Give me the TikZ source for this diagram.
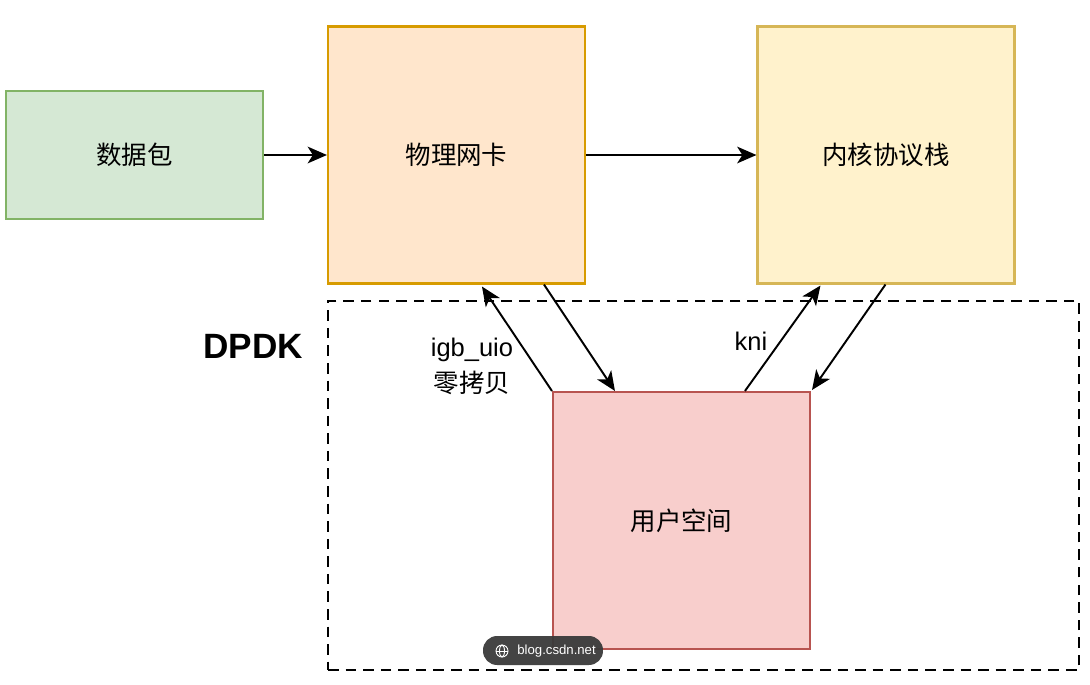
\documentclass[tikz,border=0pt]{standalone}
\usepackage{fontspec}
\setmainfont{Liberation Sans}
\newfontfamily\cjk{Noto Sans CJK SC}
\usetikzlibrary{arrows.meta,calc}
\definecolor{gfill}{HTML}{D5E8D4}\definecolor{gline}{HTML}{82B366}
\definecolor{ofill}{HTML}{FFE6CC}\definecolor{oline}{HTML}{D79B00}
\definecolor{yfill}{HTML}{FFF2CC}\definecolor{yline}{HTML}{D6B656}
\definecolor{rfill}{HTML}{F8CECC}\definecolor{rline}{HTML}{B85450}
\definecolor{badge}{HTML}{3A3A3A}
\tikzset{
  box/.style={draw, line width=1.2pt, minimum width=5.14cm, minimum height=5.14cm, inner sep=0pt, font=\cjk\fontsize{14.5}{17}\selectfont},
  conn/.style={line width=1.1pt, -{Stealth[length=11pt,width=9.5pt,inset=3pt]}},
  lbl/.style={font=\fontsize{14.5}{20.5}\selectfont, align=center, inner sep=0pt}
}
\begin{document}
\begin{tikzpicture}[x=0.02cm,y=-0.02cm]
\useasboundingbox[fill=white] (0,0) rectangle (1090,684);
\node[box, fill=gfill, draw=gline, minimum height=2.56cm] (pkt) at (134.5,155) {数据包};
\node[box, fill=ofill, draw=oline] (phy) at (456.5,155) {物理网卡};
\node[box, fill=yfill, draw=yline] (kern) at (886,155) {内核协议栈};
\node[draw, line width=1.1pt, dash pattern=on 6pt off 4pt, minimum width=15.02cm, minimum height=7.38cm, inner sep=0pt] (dpdk) at (703.5,485.5) {};
\node[box, fill=rfill, draw=rline] (user) at (681.5,520.5) {用户空间};
\node[font=\bfseries\fontsize{20}{24}\selectfont, inner sep=0pt] (dpdklbl) at (253,346) {DPDK};
\node[lbl] (igb) at (472,366) {igb\_uio\\{\cjk 零拷贝}};
\node[lbl] (kni) at (751,341) {kni};
\draw[conn] (pkt.east) -- (phy.west);
\draw[conn] (phy.east) -- (kern.west);
\draw[conn] (user.north west) -- ($(phy.south west)+(155,2)$);
\draw[conn] ($(phy.south west)+(217,0)$) -- ($(user.north west)+(63,0)$);
\draw[conn] ($(user.north west)+(193,0)$) -- ($(kern.south west)+(64,1)$);
\draw[conn] ($(kern.south west)+(129,0)$) -- ($(user.north east)+(1,-1)$);
% watermark badge
\node[fill=badge, fill opacity=0.95, rounded corners=8pt, minimum width=2.4cm, minimum height=0.58cm, inner sep=0pt] (wm) at (543,650.5) {};
\node[text=white, font=\fontsize{7.5}{9}\selectfont, inner sep=0pt, anchor=west] (wmtext) at (517,651) {blog.csdn.net};
\draw[white, line width=0.5pt] (502,651) circle (6);
\draw[white, line width=0.5pt] (502,651) ellipse (2.5 and 6);
\draw[white, line width=0.5pt] (496,651) -- (508,651);
\end{tikzpicture}
\end{document}
